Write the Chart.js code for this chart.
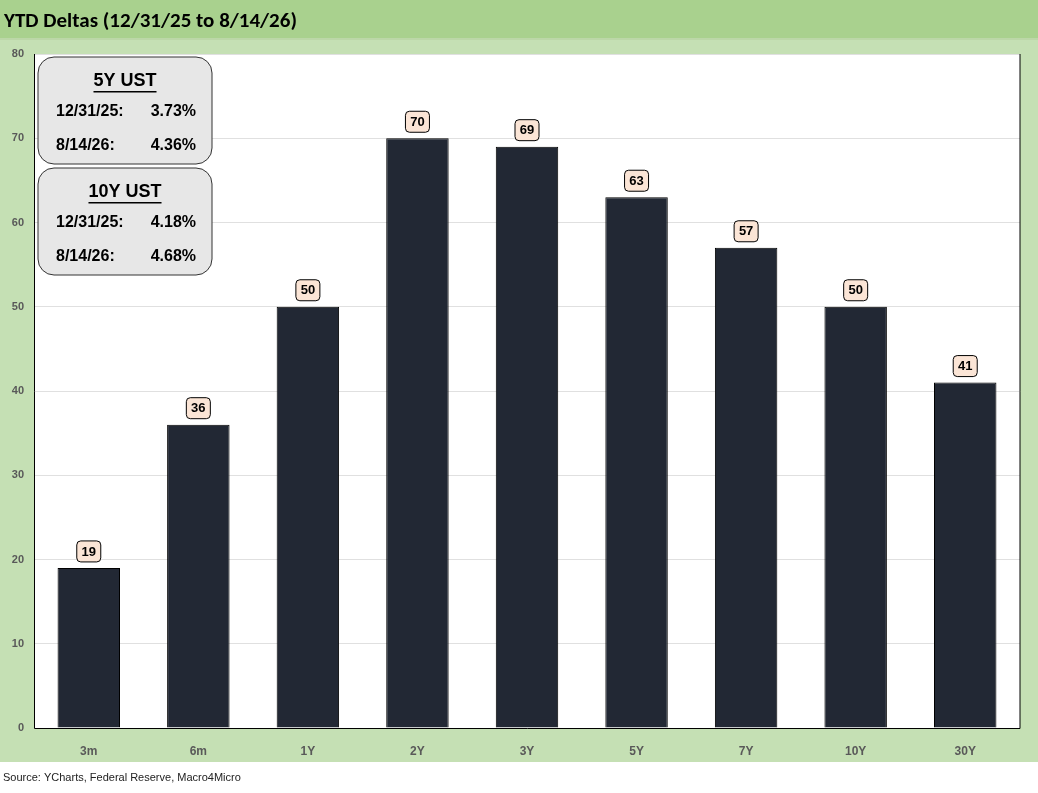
<!DOCTYPE html>
<html>
<head>
<meta charset="utf-8">
<script src="https://cdn.jsdelivr.net/npm/chart.js@4"></script>
<style>
  html, body { margin: 0; padding: 0; background: #fff; }
  #wrap { width: 1038px; height: 793px; position: relative; }
</style>
</head>
<body>
<div id="wrap"><canvas id="c" width="1038" height="793"></canvas></div>
<script>
const categories = ["3m", "6m", "1Y", "2Y", "3Y", "5Y", "7Y", "10Y", "30Y"];
const deltas = [19, 36, 50, 70, 69, 63, 57, 50, 41];
const yTicks = [0, 10, 20, 30, 40, 50, 60, 70, 80];
const titleText = "YTD Deltas (12/31/25 to 8/14/26)";
const sourceText = "Source: YCharts, Federal Reserve, Macro4Micro";
const boxes = [
  { head: "5Y UST", rows: [["12/31/25:", "3.73%"], ["8/14/26:", "4.36%"]] },
  { head: "10Y UST", rows: [["12/31/25:", "4.18%"], ["8/14/26:", "4.68%"]] }
];

function roundRect(c, x, y, w, h, r) {
  c.beginPath();
  c.moveTo(x + r, y);
  c.arcTo(x + w, y, x + w, y + h, r);
  c.arcTo(x + w, y + h, x, y + h, r);
  c.arcTo(x, y + h, x, y, r);
  c.arcTo(x, y, x + w, y, r);
  c.closePath();
}

// backgrounds, title, source
const frame = {
  id: "frame",
  beforeDraw(chart) {
    const c = chart.ctx, a = chart.chartArea;
    c.save();
    c.fillStyle = "#c5e0b4";
    c.fillRect(0, 38, 1038, 724);
    c.fillStyle = "#a9d18e";
    c.fillRect(0, 0, 1038, 38);
    c.fillStyle = "#bcd7a8";
    c.fillRect(0, 38, 1038, 2);
    c.fillStyle = "#fff";
    c.fillRect(a.left, a.top, a.right - a.left, a.bottom - a.top);
    c.fillStyle = "#000";
    c.font = "bold 21px Carlito, 'Liberation Sans', sans-serif";
    c.textBaseline = "middle";
    c.fillText(titleText, 4, 22);
    c.font = "11px 'Liberation Sans', sans-serif";
    c.fillStyle = "#222";
    c.fillText(sourceText, 3, 778);
    c.restore();
  },
  afterDraw(chart) {
    const c = chart.ctx, a = chart.chartArea;
    const x = chart.scales.x, y = chart.scales.y;
    c.save();
    c.strokeStyle = "#000";
    c.lineWidth = 1;
    c.beginPath();
    c.moveTo(a.left + 0.5, a.top);
    c.lineTo(a.left + 0.5, a.bottom + 0.5);
    c.lineTo(a.right, a.bottom + 0.5);
    c.lineTo(a.right, a.top);
    c.stroke();
    // value labels
    c.font = "bold 13px 'Liberation Sans', sans-serif";
    c.textAlign = "center";
    c.textBaseline = "middle";
    deltas.forEach((v, i) => {
      const px = x.getPixelForValue(i), py = y.getPixelForValue(v);
      roundRect(c, px - 12, py - 27, 24, 21, 4);
      c.fillStyle = "#fbe5d6";
      c.fill();
      c.strokeStyle = "#000";
      c.stroke();
      c.fillStyle = "#000";
      c.fillText(String(v), px, py - 16);
    });
    // info boxes
    boxes.forEach((b, k) => {
      const bx = a.left + 4, by = a.top + 3 + k * 111, bw = 174, bh = 107;
      roundRect(c, bx, by, bw, bh, 16);
      c.fillStyle = "#e7e7e7";
      c.fill();
      c.strokeStyle = "#333";
      c.lineWidth = 1;
      c.stroke();
      c.fillStyle = "#000";
      c.font = "bold 18px 'Liberation Sans', sans-serif";
      c.textAlign = "center";
      c.fillText(b.head, bx + bw / 2, by + 24);
      const tw = c.measureText(b.head).width;
      c.fillRect(bx + bw / 2 - tw / 2, by + 34, tw, 1.5);
      c.font = "bold 16px 'Liberation Sans', sans-serif";
      b.rows.forEach((r, j) => {
        const ry = by + 55 + j * 34;
        c.textAlign = "left";
        c.fillText(r[0], bx + 18, ry);
        c.textAlign = "right";
        c.fillText(r[1], bx + 158, ry);
      });
    });
    c.restore();
  }
};

new Chart(document.getElementById("c"), {
  type: "bar",
  data: {
    labels: categories,
    datasets: [{
      data: deltas,
      backgroundColor: "#222834",
      borderColor: "#000",
      borderWidth: 1,
      categoryPercentage: 1,
      barPercentage: 0.57
    }]
  },
  options: {
    responsive: false,
    animation: false,
    layout: { padding: { top: 54, right: 18, bottom: 31, left: 0 } },
    plugins: { legend: { display: false }, tooltip: { enabled: false } },
    scales: {
      x: {
        grid: { display: false },
        border: { display: false },
        ticks: { color: "#595959", font: { size: 12, weight: "bold", family: "'Liberation Sans', sans-serif" }, padding: 8 },
        afterFit(s) { s.height = 34; }
      },
      y: {
        min: 0, max: 80,
        afterBuildTicks(s) { s.ticks = yTicks.map(v => ({ value: v })); },
        grid: { color: "#e0e0e0", drawTicks: false },
        border: { display: false },
        ticks: { color: "#595959", font: { size: 11, weight: "bold", family: "'Liberation Sans', sans-serif" }, padding: 10 },
        afterFit(s) { s.width = 34; }
      }
    }
  },
  plugins: [frame]
});
</script>
</body>
</html>
